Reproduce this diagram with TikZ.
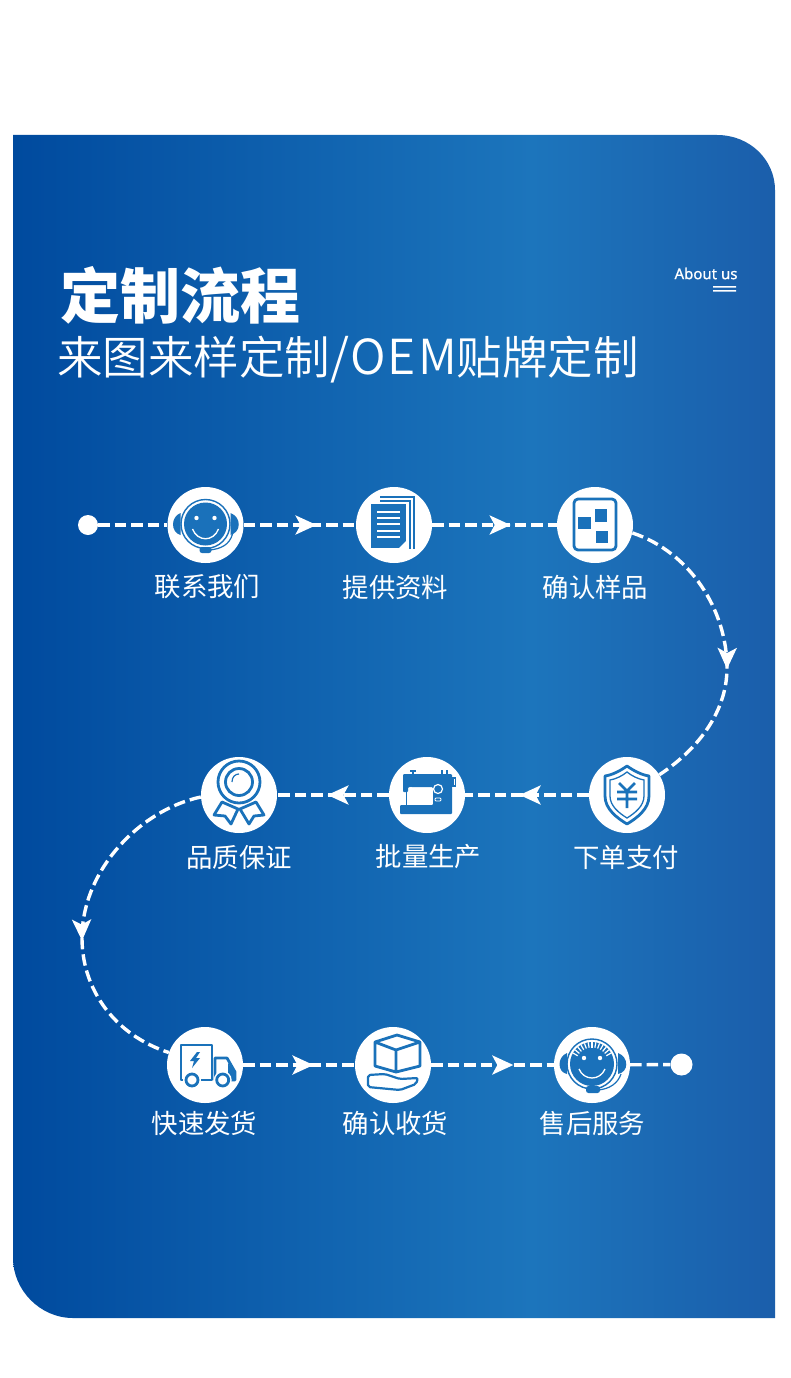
\documentclass[tikz,border=0pt]{standalone}
\usepackage{fontspec}
\usepackage{xcolor}
\usetikzlibrary{arrows.meta,decorations.markings}
\newfontfamily\cjkfont{Noto Sans CJK SC}
\newfontfamily\cjkblack{Noto Sans CJK SC Black}
\newfontfamily\cjkthin{Noto Sans CJK SC DemiLight}
\newfontfamily\cjkwide[Scale=1.06,LetterSpace=4]{Noto Sans CJK SC DemiLight}
\newfontfamily\aboutfont[FakeBold=0.8]{Noto Sans}
\definecolor{panelleft}{RGB}{0,74,158}
\definecolor{panelmid}{RGB}{28,117,188}
\definecolor{panelright}{RGB}{27,94,171}
\colorlet{iconcol}{panelmid!92!panelleft}
\pgfdeclarehorizontalshading{panelshade}{100bp}{
  color(0bp)=(panelleft); color(25bp)=(panelleft); color(59bp)=(panelmid);
  color(75bp)=(panelright); color(100bp)=(panelright)}
\tikzset{
  hub/.style={circle,fill=white,minimum size=76pt,inner sep=0pt},
  enddot/.style={circle,fill=white,minimum size=#1,inner sep=0pt},
  steptext/.style={text=white,font=\cjkfont\fontsize{26.4}{28}\selectfont,inner sep=0pt},
  flowline/.style={draw=white,line width=3.4pt,dash pattern=on 11.5pt off 5pt},
  flowtip/.tip={Stealth[length=21pt,width=19pt,inset=5pt]},
  tipat/.style={postaction={decorate,decoration={markings,
    mark=at position #1 with {\arrow[white]{flowtip}}}}},
  iconline/.style={draw=iconcol,line width=2.8pt,line join=round},
  headset/.pic={
    \fill[iconcol] (-25,-12) .. controls (-35,-8) and (-35,7) .. (-25,10) -- cycle;
    \fill[iconcol] (25,-12) .. controls (36,-8) and (36,7) .. (25,10) -- cycle;
    \draw[iconcol,line width=1.4pt,fill=white] (0,-1) circle (24.5pt);
    \fill[iconcol] (0,-1) circle (21.5pt);
    \fill[white] (-9,-7) circle (2.2pt) (9,-7) circle (2.2pt);
    \draw[white,line width=1.3pt] (-13,4) .. controls (-8,17) and (8,17) .. (13,4);
    \draw[iconcol,line width=1.2pt] (27,9) .. controls (24,20) and (15,24) .. (4,25);
    \fill[iconcol,rounded corners=2.5pt] (-6,22) rectangle (6,28);
  },
  paperstack/.pic={
    \fill[iconcol] (-23,-21) rectangle (12,23);
    \foreach \ly in {-13,-7,-1,6,12}
      \draw[white,line width=1.2pt] (-17,\ly) -- (6,\ly);
    \fill[white] (12,16) -- (12,23) -- (5,23) -- cycle;
    \draw[iconcol,line width=1.3pt] (-14,-24) -- (16,-24) -- (16,24);
    \draw[iconcol,line width=1.3pt] (-14,-28) -- (20,-28) -- (20,24);
  },
  samplecard/.pic={
    \draw[iconline,rounded corners=4pt] (-21,-26) rectangle (21,25);
    \fill[iconcol] (-17,-8) rectangle (-4,4);
    \fill[iconcol] (0,-16) rectangle (12,-3);
    \fill[iconcol] (1,6) rectangle (13,18);
  },
  rosette/.pic={
    \draw[iconline,fill=white] (-17,7) -- (-25,20) -- (-14,21) -- (-8,29) -- (-1,14) -- cycle;
    \draw[iconline,fill=white] (17,7) -- (25,20) -- (15,21) -- (10,29) -- (1,14) -- cycle;
    \draw[iconline,fill=white] (0,-13) circle (21pt);
    \draw[iconline] (0,-13) circle (13.5pt);
    \draw[iconcol,line width=1.2pt] (-7,-13) .. controls (-7,-18) and (-4,-21) .. (0,-21);
  },
  sewer/.pic={
    \fill[iconcol,rounded corners=1pt] (-24,-21) -- (25,-21) -- (25,19) -- (-27,19) -- (-27,10)
      -- (6,10) -- (6,-8) -- (-19,-8) -- (-19,-3) -- (-24,-3) -- cycle;
    \draw[iconcol,line width=1pt] (-21,-3) -- (-21,10);
    \draw[white,line width=1.2pt] (11,-6) circle (4.5pt);
    \draw[white,line width=.8pt,rounded corners=1pt] (8,3) rectangle (14,6);
    \draw[white,line width=.8pt] (-16,-6) circle (1.6pt);
    \draw[iconcol,line width=1.2pt] (-17,-24) -- (-11,-24) (-14,-24) -- (-14,-21);
    \draw[iconcol,line width=1.2pt] (15,-25) -- (15,-21) (20,-25) -- (20,-21);
    \draw[iconcol,line width=1.2pt] (26,-17) rectangle (28.5,-9);
  },
  shield/.pic={
    \draw[iconline] (0,-29) .. controls (7,-24) and (15,-20) .. (22,-19) -- (22,1)
      .. controls (22,14) and (10,23) .. (0,29) .. controls (-10,23) and (-22,14) .. (-22,1)
      -- (-22,-19) .. controls (-15,-20) and (-7,-24) .. (0,-29) -- cycle;
    \draw[iconcol,line width=1.3pt] (0,-23) .. controls (5,-19) and (11,-16) .. (17,-15) -- (17,1)
      .. controls (17,11) and (8,18) .. (0,23) .. controls (-8,18) and (-17,11) .. (-17,1)
      -- (-17,-15) .. controls (-11,-16) and (-5,-19) .. (0,-23) -- cycle;
    \draw[iconline] (-8,-12) -- (0,-4) -- (8,-12) (0,-4) -- (0,13) (-10,-3) -- (10,-3) (-10,4) -- (10,4);
  },
  truck/.pic={
    \draw[iconline] (-24,15) -- (-24,-20) -- (7,-20) -- (7,15) -- cycle;
    \fill[iconcol] (-8,-13) -- (-15,-4) -- (-11,-4) -- (-13,3) -- (-5,-7) -- (-9,-7) -- (-5,-13) -- cycle;
    \draw[iconline] (10,15) -- (10,-7) -- (22,-7) -- (30,7) -- (30,15) -- cycle;
    \fill[iconcol] (23,-2) -- (30,7) -- (30,15) -- (23,15) -- cycle;
    \fill[white] (-13,15) circle (9pt) (17.7,15) circle (9pt);
    \draw[iconline] (-13,15) circle (6pt);
    \draw[iconline] (17.7,15) circle (6pt);
  },
  parcel/.pic={
    \draw[iconline] (-18,-23) -- (4,-30) -- (27,-23) -- (3,-15) -- cycle
      (-18,-23) -- (-18,1) -- (3,7) -- (27,1) -- (27,-23) (3,-15) -- (3,7);
    \draw[iconline,line width=2.2pt,rounded corners=2pt] (-25,10) -- (-8,9) -- (7,14) -- (25,13) -- (23,19)
      -- (7,25) -- (-25,22) -- cycle;
  },
  agent/.pic={
    \fill[iconcol] (-25,-12) .. controls (-35,-8) and (-35,7) .. (-25,9) -- cycle;
    \fill[iconcol] (26,-12) .. controls (37,-8) and (37,7) .. (26,9) -- cycle;
    \draw[iconcol,line width=1.4pt,fill=white] (0,-1) circle (25pt);
    \fill[iconcol] (0,-1) circle (22pt);
    \foreach \ang in {30,40,...,150}
      \draw[white,line width=1.2pt] (0,-1) ++(-\ang:16.5) -- ++(-\ang:5.5);
    \fill[white] (-8,-7) circle (2.2pt) (8,-7) circle (2.2pt);
    \draw[white,line width=1.3pt] (-13,4) .. controls (-8,16) and (8,16) .. (13,4);
    \draw[iconcol,line width=1.2pt] (29,9) .. controls (26,18) and (18,24) .. (6,25);
    \fill[iconcol,rounded corners=2.5pt] (-6,21) rectangle (8,28);
  }
}
\begin{document}
\begin{tikzpicture}[x=1pt,y=-1pt]
  \useasboundingbox (0,0) rectangle (790,1378);
  \path[shading=panelshade] (13,135) -- (717,135) .. controls (750,135) and (775,160) .. (775,190)
    -- (775,1318) -- (73,1318) .. controls (40,1318) and (13,1290) .. (13,1258) -- cycle;

  \node[text=white,inner sep=0pt,font=\cjkblack\fontsize{60}{62}\selectfont] (heading) at (180,295) {定制流程};
  \node[text=white,inner sep=0pt,anchor=west,font=\cjkthin\fontsize{45.5}{48}\selectfont] (subheading) at (57,360)
    {来图来样定制{\cjkwide /OEM}贴牌定制};
  \node[text=white,inner sep=0pt,font=\aboutfont\fontsize{15}{17}\selectfont] (about) at (706,273.5) {About us};
  \fill[white] (713,286) rectangle (736,287.5) (713,290) rectangle (736,291.5);

  \node[enddot=20pt] (startdot) at (88,525) {};
  \node[hub] (contact) at (205.5,525) {};
  \node[hub] (material) at (394,525) {};
  \node[hub] (sample) at (595,525) {};
  \node[hub] (payment) at (627,795) {};
  \node[hub] (produce) at (427,795) {};
  \node[hub] (quality) at (239,795) {};
  \node[hub] (ship) at (205,1065) {};
  \node[hub] (receive) at (393,1065) {};
  \node[hub] (service) at (592,1065) {};
  \node[enddot=22pt] (enddot) at (681.5,1064.5) {};

  \node[steptext] (contactlabel) at (207.5,587) {联系我们};
  \node[steptext] (materiallabel) at (395.5,587) {提供资料};
  \node[steptext] (samplelabel) at (595.5,587) {确认样品};
  \node[steptext] (paymentlabel) at (626,857) {下单支付};
  \node[steptext] (producelabel) at (428.5,857) {批量生产};
  \node[steptext] (qualitylabel) at (239,857) {品质保证};
  \node[steptext] (shiplabel) at (204.5,1123) {快速发货};
  \node[steptext] (receivelabel) at (395.5,1123) {确认收货};
  \node[steptext] (servicelabel) at (592.5,1123) {售后服务};

  \draw[flowline] (startdot) -- (contact);
  \draw[flowline,tipat=0.65] (contact) -- (material);
  \draw[flowline,tipat=0.63] (material) -- (sample);
  \draw[flowline,tipat=0.575] (sample.-12) .. controls (690,552) and (727,610) .. (727,668)
    .. controls (727,710) and (700,748) .. (payment.32);
  \draw[flowline,tipat=0.56] (payment) -- (produce);
  \draw[flowline,tipat=0.55] (produce) -- (quality);
  \draw[flowline,tipat=0.57] (quality.183) .. controls (140,810) and (82,870) .. (82,938)
    .. controls (82,990) and (115,1035) .. (ship.161);
  \draw[flowline,tipat=0.63] (ship) -- (receive);
  \draw[flowline,tipat=0.67] (receive) -- (service);
  \draw[flowline] (service) -- (enddot);

  \pic at (contact) {headset};
  \pic at (material) {paperstack};
  \pic at (sample) {samplecard};
  \pic at (payment) {shield};
  \pic at (produce) {sewer};
  \pic at (quality) {rosette};
  \pic at (ship) {truck};
  \pic at (receive) {parcel};
  \pic at (service) {agent};
\end{tikzpicture}
\end{document}
